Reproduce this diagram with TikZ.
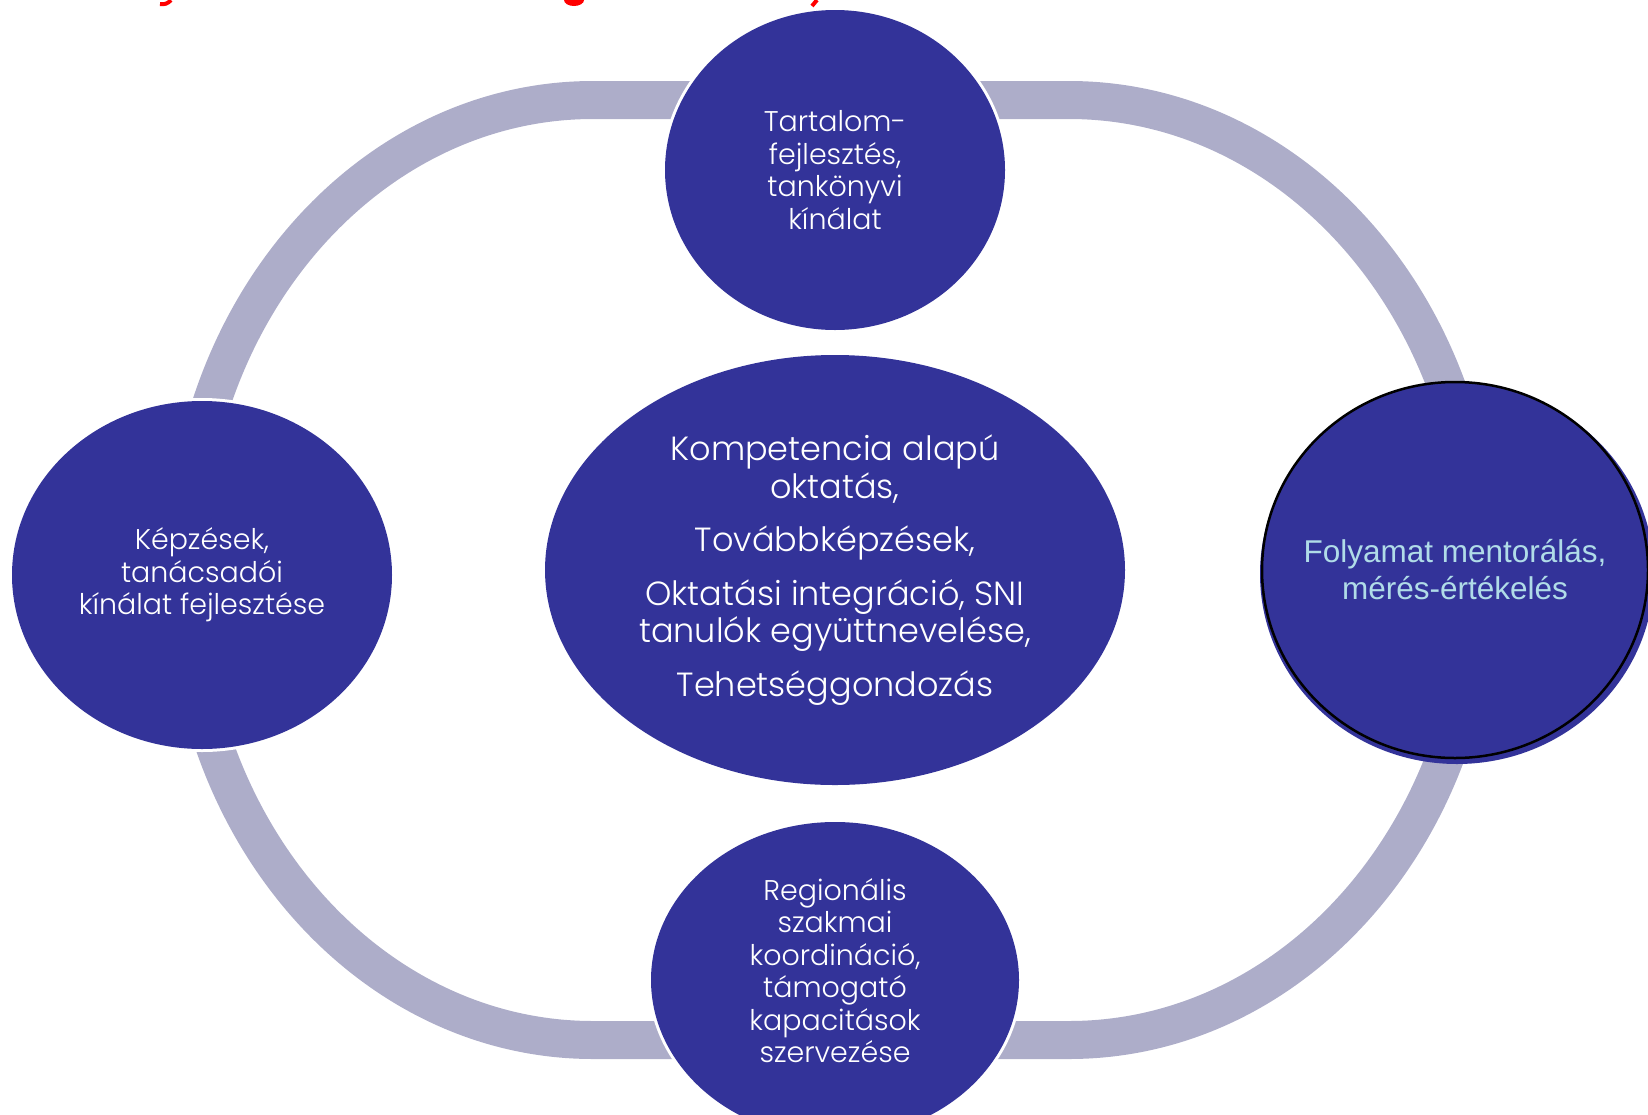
\documentclass[tikz,border=0pt]{standalone}
\usepackage{fontspec}
\setmainfont{Poppins Light}
\newfontfamily\arialfont{Liberation Sans}
\usetikzlibrary{shapes.geometric}
\definecolor{navyblob}{RGB}{51,51,153}
\definecolor{ringgray}{RGB}{173,173,201}
\definecolor{paleblue}{RGB}{176,220,232}

\begin{document}
\begin{tikzpicture}[x=1pt,y=-1pt,
  bubble/.style={ellipse,fill=navyblob,inner sep=0pt,text=white,align=center,
    preaction={draw=white,line width=6pt}},
  smalltext/.style={font=\fontsize{28.5}{32.5}\selectfont}]
\useasboundingbox (0,0) rectangle (1648,1114);
\begin{scope}
\clip (0,0) rectangle (1648,1114);

% cut-off title
\draw[red,line width=4pt] (171,0) to[bend left] (160,4);
\fill[red] (574,0) ellipse[x radius=10,y radius=6];
\draw[red,line width=4pt] (817,0) -- (812,6);

\draw[ringgray,line width=38pt] (593,100) -- (1069,100)
  arc[start angle=-90,end angle=90,x radius=410,y radius=470] -- (593,1040)
  arc[start angle=90,end angle=270,x radius=408,y radius=470] -- cycle;

\node at (835,570) [bubble,minimum width=580pt,minimum height=430pt,
  font=\fontsize{33.5}{37.5}\selectfont] (core)
  {Kompetencia alapú\\oktatás,\\[16pt]Továbbképzések,\\[16pt]Oktatási integráció, SNI\\tanulók együttnevelése,\\[16pt]Tehetséggondozás};
\node at (835,170) [bubble,smalltext,minimum width=340pt,minimum height=320pt] (content)
  {Tartalom-\\fejlesztés,\\tankönyvi\\kínálat};
\node at (202,575) [bubble,smalltext,minimum width=380pt,minimum height=348pt] (training)
  {Képzések,\\tanácsadói\\kínálat fejlesztése};
\node at (835,980) [bubble,smalltext,minimum width=368pt,minimum height=316pt] (regional)
  {Regionális\\szakmai\\koordináció,\\támogató\\kapacitások\\szervezése\\[-14pt]};

\node at (1457,574) [ellipse,fill=navyblob,minimum width=394pt,minimum height=380pt] (mentorback) {};
\node at (1455,570) [ellipse,fill=navyblob,draw=black,line width=2.5pt,
  minimum width=386pt,minimum height=376pt] (mentor) {};
\node at (mentor) [text=paleblue,align=center,
  font=\arialfont\fontsize{31.5}{37}\selectfont] (mentortext)
  {Folyamat mentorálás,\\mérés-értékelés};
\end{scope}
\end{tikzpicture}
\end{document}
